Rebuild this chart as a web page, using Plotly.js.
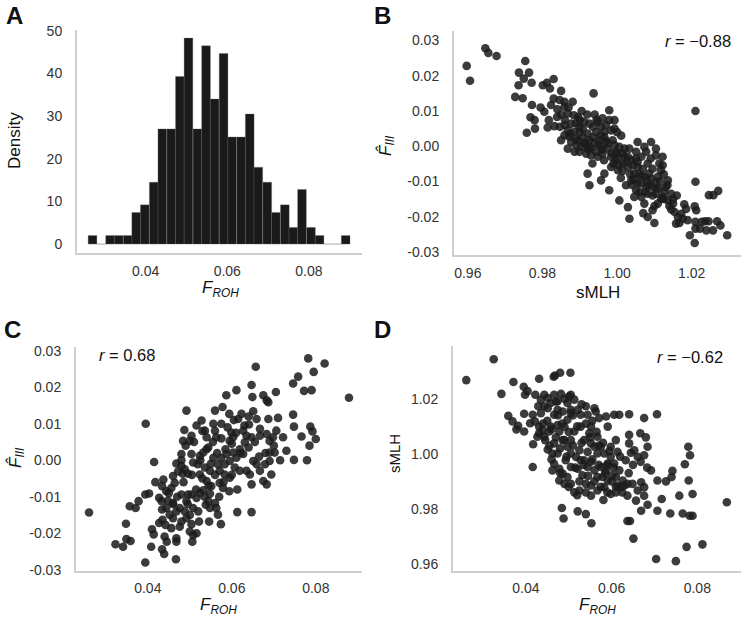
<!DOCTYPE html>
<html>
<head>
<meta charset="utf-8">
<script src="https://cdn.plot.ly/plotly-3.0.1.min.js"></script>
<style>html,body{margin:0;padding:0;background:#fff;}#chart{width:742px;height:617px;}</style>
</head>
<body>
<div id="chart"></div>
<script>
// ---------- Panel A: histogram of F_ROH (density per bin) ----------
const binCenters = [0.0270,0.0292,0.0313,0.0334,0.0356,0.0377,0.0398,0.0420,0.0441,0.0463,0.0484,0.0505,0.0527,0.0548,0.0569,0.0591,0.0612,0.0634,0.0655,0.0676,0.0698,0.0719,0.0741,0.0762,0.0783,0.0805,0.0826,0.0847,0.0869,0.0890];
const binDensity = [2,0,2,2,2,7.4,9.2,14.5,27,27,39.3,48.3,27,46.5,34,44.7,25.1,25.1,30.5,18,14.5,7.4,9.2,3.9,12.8,3.9,2,0,0,2];

// ---------- Panel B: sMLH vs F_III ----------
const bSMLH = [0.9597,0.9606,0.9647,0.9655,0.9677,0.9754,0.9737,0.9736,0.9727,0.9747,0.9764,0.9750,0.9771,0.9758,0.9772,0.9768,0.9779,0.9780,0.9801,0.9812,0.9830,0.9820,0.9850,0.9795,0.9805,0.9823,0.9846,0.9859,0.9881,0.9859,0.9817,0.9839,0.9814,0.9832,0.9847,0.9868,0.9884,0.9895,0.9877,0.9868,0.9859,0.9850,0.9872,0.9886,0.9899,0.9912,0.9895,0.9908,0.9921,0.9935,0.9926,0.9912,0.9868,0.9886,0.9904,0.9921,0.9939,0.9953,0.9966,0.9957,0.9975,0.9988,0.9966,0.9984,0.9948,0.9961,0.9979,0.9937,0.9979,0.9993,0.9993,0.9930,0.9934,0.9921,0.9926,0.9966,0.9957,0.9984,0.9997,1.0006,1.0002,1.0015,1.0015,1.0029,0.9984,1.0002,0.9979,1.0006,1.0029,1.0033,1.0024,1.0038,1.0046,1.0055,1.0042,1.0033,1.0051,1.0065,1.0078,1.0055,1.0073,1.0091,1.0104,1.0104,1.0055,1.0069,1.0082,1.0095,1.0073,1.0086,1.0064,1.0078,1.0051,1.0046,1.0065,1.0073,1.0082,1.0095,1.0104,1.0109,1.0117,1.0122,1.0122,1.0113,1.0136,1.0131,1.0145,1.0136,1.0122,1.0104,1.0109,1.0095,1.0082,1.0100,1.0150,1.0154,1.0163,1.0172,1.0180,1.0158,1.0167,1.0176,1.0185,1.0189,1.0195,1.0208,1.0210,1.0210,1.0212,1.0208,1.0222,1.0227,1.0210,1.0210,1.0236,1.0239,1.0246,1.0258,1.0271,1.0245,1.0268,1.0277,1.0257,1.0295,
0.9877,0.9890,0.9899,0.9917,0.9930,0.9944,0.9948,0.9961,0.9975,0.9993,0.9908,0.9926,0.9944,0.9957,1.0011,1.0020,1.0038,1.0060,1.0091,1.0113,1.0127,1.0118,1.0140,0.9840,0.9860,0.9890,0.9830,0.9905,0.9940,0.9970,1.0000,1.0040,1.0010,0.9990,1.0030,1.0080,1.0125,1.0150,1.0160,1.0070,
0.9860,0.9875,0.9890,0.9900,0.9915,0.9925,0.9935,0.9950,0.9960,0.9970,0.9985,0.9995,1.0005,1.0015,1.0025,1.0035,1.0045,1.0055,1.0065,1.0075,1.0085,1.0095,1.0105,1.0115,1.0125,1.0135,1.0145,0.9850,0.9870,0.9900,0.9920,0.9945,0.9955,0.9965,1.0000,1.0020,1.0050,1.0090,1.0060,1.0100];
const bFIII = [0.0228,0.0186,0.0278,0.0265,0.0256,0.0242,0.0209,0.0173,0.0140,0.0136,0.0209,0.0192,0.0180,0.0038,0.0117,0.0082,0.0074,0.0050,0.0173,0.0180,0.0191,0.0164,0.0157,0.0110,0.0098,0.0117,0.0131,0.0126,0.0126,0.0112,0.0074,0.0083,0.0053,0.0057,0.0055,0.0093,0.0088,0.0083,0.0064,0.0045,0.0031,0.0017,0.0027,0.0041,0.0055,0.0069,0.0017,0.0027,0.0036,0.0055,0.0017,0.0008,-0.0007,-0.0016,-0.0002,-0.0007,0.0008,0.0017,0.0027,-0.0002,0.0008,0.0017,0.0041,0.0045,0.0069,0.0079,0.0074,0.0150,0.0102,0.0074,0.0050,-0.0026,-0.0049,-0.0078,-0.0111,-0.0078,-0.0097,-0.0030,-0.0016,-0.0002,-0.0035,-0.0021,-0.0049,-0.0030,-0.0059,-0.0068,-0.0125,-0.0154,-0.0173,-0.0206,-0.0111,-0.0097,-0.0078,-0.0059,-0.0054,-0.0007,-0.0016,-0.0030,-0.0016,0.0012,-0.0002,0.0012,-0.0007,-0.0026,-0.0045,-0.0064,-0.0049,-0.0064,-0.0087,-0.0078,-0.0106,-0.0116,-0.0125,-0.0144,-0.0144,-0.0163,-0.0135,-0.0116,-0.0101,-0.0087,-0.0068,-0.0054,-0.0030,-0.0049,-0.0097,-0.0116,-0.0135,-0.0154,-0.0144,-0.0135,-0.0163,-0.0182,-0.0201,-0.0218,-0.0163,-0.0187,-0.0201,-0.0192,-0.0165,-0.0220,-0.0218,-0.0206,-0.0178,-0.0210,-0.0253,-0.0275,-0.0234,-0.0215,-0.0182,-0.0171,-0.0234,-0.0215,-0.0101,0.0100,-0.0213,-0.0239,-0.0139,-0.0139,-0.0127,-0.0213,-0.0213,-0.0225,-0.0239,-0.0253,
0.0012,0.0003,-0.0016,-0.0021,-0.0007,-0.0016,-0.0030,-0.0021,-0.0007,0.0003,0.0050,0.0064,0.0040,0.0055,0.0030,-0.0007,-0.0040,-0.0080,-0.0092,-0.0120,-0.0130,-0.0150,-0.0170,0.0105,0.0075,0.0065,0.0135,0.0100,0.0090,0.0060,0.0040,-0.0110,-0.0090,-0.0050,-0.0060,-0.0100,-0.0080,-0.0150,-0.0140,-0.0190,
0.0060,0.0035,0.0020,0.0040,0.0010,-0.0005,0.0025,0.0005,-0.0010,0.0015,-0.0020,-0.0040,-0.0055,-0.0070,-0.0045,-0.0080,-0.0095,-0.0105,-0.0085,-0.0130,-0.0110,-0.0140,-0.0120,-0.0100,-0.0150,-0.0110,-0.0180,0.0090,0.0110,0.0075,0.0090,0.0075,0.0030,-0.0040,-0.0020,-0.0030,-0.0035,-0.0035,-0.0130,-0.0170];

// ---------- Panel C: F_ROH vs F_III ----------
const cFROH = [0.0260,0.0395,0.0415,0.0418,0.0394,0.0403,0.0378,0.0357,0.0371,0.0348,0.0323,0.0341,0.0359,0.0349,0.0394,0.0408,0.0434,0.0439,0.0467,0.0410,0.0414,0.0427,0.0435,0.0440,0.0445,0.0468,0.0468,0.0442,0.0456,0.0476,0.0480,0.0492,0.0504,0.0508,0.0506,0.0500,0.0516,0.0522,0.0546,0.0574,0.0567,
0.0434,0.0433,0.0427,0.0444,0.0448,0.0460,0.0452,0.0468,0.0460,0.0476,0.0480,0.0492,0.0496,0.0504,0.0508,0.0488,0.0516,0.0524,0.0532,0.0544,0.0548,0.0560,0.0563,0.0538,0.0548,0.0551,0.0540,0.0571,0.0579,0.0594,0.0613,0.0613,0.0647,
0.0437,0.0434,0.0444,0.0456,0.0464,0.0460,0.0468,0.0472,0.0480,0.0483,0.0488,0.0496,0.0480,0.0490,0.0487,0.0492,0.0484,0.0504,0.0500,0.0516,0.0528,0.0504,0.0508,0.0519,0.0524,0.0532,0.0544,0.0540,0.0560,0.0536,0.0556,0.0563,0.0560,0.0578,0.0587,0.0594,0.0603,0.0599,0.0595,0.0611,0.0615,0.0623,0.0627,0.0635,0.0631,0.0647,0.0641,0.0649,0.0647,0.0657,0.0651,0.0659,0.0667,0.0667,0.0675,0.0683,0.0687,0.0687,0.0690,0.0683,0.0705,0.0710,0.0706,0.0698,0.0722,0.0730,0.0746,0.0758,0.0746,0.0748,0.0748,0.0766,0.0772,0.0782,0.0790,0.0795,0.0821,0.0787,0.0785,0.0792,0.0800,0.0779,0.0879,
0.0556,0.0567,0.0575,0.0583,0.0587,0.0595,0.0603,0.0611,0.0619,0.0627,0.0635,0.0643,0.0647,0.0651,0.0659,0.0667,0.0675,0.0683,0.0679,0.0690,0.0694,0.0702,0.0690,0.0571,0.0583,0.0595,0.0607,0.0619,0.0524,0.0536,0.0548,
0.0470,0.0485,0.0495,0.0505,0.0515,0.0525,0.0530,0.0540,0.0550,0.0555,0.0565,0.0575,0.0585,0.0590,0.0600,0.0610,0.0620,0.0630,0.0640,0.0655,0.0665,0.0500,0.0520,0.0535,0.0545,0.0560,0.0570,0.0580,0.0600,0.0460,0.0450,0.0510,0.0530,0.0575,0.0605,0.0640,0.0680,0.0700,0.0715,0.0480];
const cFIII = [-0.0143,0.0100,-0.0005,-0.0060,-0.0094,-0.0091,-0.0112,-0.0126,-0.0131,-0.0174,-0.0230,-0.0237,-0.0221,-0.0216,-0.0280,-0.0237,-0.0244,-0.0257,-0.0271,-0.0189,-0.0203,-0.0172,-0.0163,-0.0209,-0.0223,-0.0214,-0.0223,-0.0177,-0.0186,-0.0182,-0.0168,-0.0159,-0.0175,-0.0205,-0.0223,-0.0195,-0.0200,-0.0168,-0.0168,-0.0175,-0.0149,
-0.0135,-0.0112,-0.0103,-0.0131,-0.0111,-0.0117,-0.0149,-0.0140,-0.0159,-0.0131,-0.0094,-0.0112,-0.0094,-0.0094,-0.0131,-0.0140,-0.0103,-0.0089,-0.0082,-0.0112,-0.0131,-0.0117,-0.0131,-0.0122,-0.0092,-0.0071,-0.0057,-0.0062,-0.0076,-0.0085,-0.0080,-0.0142,-0.0142,
-0.0053,-0.0071,-0.0085,-0.0076,-0.0062,-0.0043,-0.0009,-0.0031,-0.0016,-0.0037,-0.0025,-0.0037,0.0017,0.0040,0.0083,0.0136,0.0053,0.0067,0.0053,0.0095,0.0109,0.0017,-0.0006,-0.0011,0.0012,0.0021,0.0035,0.0063,0.0081,0.0081,0.0100,0.0063,0.0136,0.0146,0.0178,0.0127,0.0063,0.0076,0.0053,0.0192,0.0113,0.0127,0.0081,0.0067,0.0049,0.0063,0.0098,0.0173,0.0206,0.0256,0.0134,0.0113,0.0086,0.0067,0.0178,0.0164,0.0159,0.0113,0.0053,0.0072,0.0187,0.0116,0.0081,0.0063,0.0063,0.0026,0.0210,0.0229,0.0125,0.0092,0.0001,0.0065,0.0190,0.0279,0.0192,0.0242,0.0265,0.0092,0.0040,0.0079,0.0058,0.0000,0.0171,
0.0007,-0.0011,0.0007,-0.0011,0.0017,-0.0002,0.0021,0.0007,0.0030,0.0017,-0.0029,-0.0039,-0.0066,-0.0002,-0.0011,-0.0029,-0.0057,-0.0066,-0.0011,-0.0002,-0.0039,0.0021,0.0021,-0.0029,-0.0039,-0.0048,-0.0020,-0.0029,-0.0039,-0.0020,-0.0029,
-0.0100,-0.0060,-0.0120,-0.0040,-0.0080,0.0000,-0.0050,0.0030,-0.0010,0.0050,0.0020,0.0060,0.0030,0.0090,0.0045,0.0075,0.0020,0.0095,0.0035,0.0050,0.0010,-0.0150,-0.0140,-0.0100,-0.0070,-0.0040,-0.0100,-0.0060,-0.0040,-0.0120,-0.0090,0.0050,0.0080,0.0100,0.0110,0.0120,0.0020,0.0040,0.0000,0.0000];

// ---------- Panel D: F_ROH vs sMLH ----------
const dFROH = [0.0261,0.0325,0.0343,0.0371,0.0359,0.0369,0.0378,0.0382,0.0395,0.0398,0.0404,0.0410,0.0396,0.0396,0.0416,0.0421,0.0417,0.0416,0.0422,0.0431,0.0435,0.0443,0.0451,0.0465,0.0468,0.0480,0.0504,0.0429,0.0435,0.0443,0.0451,0.0458,0.0466,0.0482,0.0501,0.0505,0.0497,0.0513,0.0474,0.0474,0.0486,0.0466,0.0431,0.0431,0.0439,0.0443,0.0427,0.0458,0.0454,0.0474,0.0478,0.0490,0.0497,0.0505,0.0521,0.0528,0.0540,0.0544,0.0560,0.0563,0.0571,0.0587,0.0606,0.0618,0.0641,0.0676,0.0706,
0.0451,0.0462,0.0466,0.0478,0.0478,0.0490,0.0505,0.0486,0.0497,0.0505,0.0517,0.0525,0.0536,0.0548,0.0552,0.0567,0.0591,0.0575,0.0583,0.0598,0.0521,0.0532,0.0544,0.0552,0.0560,0.0567,0.0575,0.0587,0.0591,0.0602,0.0606,0.0618,0.0626,0.0637,0.0513,0.0525,0.0540,0.0552,0.0567,0.0581,0.0583,0.0598,0.0610,0.0614,0.0630,0.0637,0.0649,0.0661,0.0669,0.0676,0.0657,0.0669,0.0676,0.0684,0.0707,0.0707,0.0717,0.0727,0.0740,0.0742,0.0737,0.0766,0.0758,0.0771,0.0779,0.0783,0.0780,0.0789,0.0782,0.0789,0.0869,
0.0484,0.0488,0.0521,0.0540,0.0553,0.0637,0.0643,0.0651,0.0704,0.0750,0.0775,0.0812,0.0633,0.0645,0.0653,0.0661,0.0641,0.0641,0.0667,0.0680,0.0684,0.0668,0.0683,0.0692,0.0676,0.0567,0.0536,0.0544,0.0474,0.0493,0.0505,0.0486,0.0462,0.0497,0.0528,0.0591,0.0598,0.0614,0.0560,0.0552,0.0528,0.0513,0.0505,0.0466,0.0579,0.0610,0.0622,0.0552,0.0540,
0.0440,0.0445,0.0450,0.0455,0.0460,0.0470,0.0475,0.0480,0.0485,0.0490,0.0495,0.0500,0.0505,0.0510,0.0515,0.0520,0.0525,0.0530,0.0535,0.0540,0.0545,0.0550,0.0555,0.0560,0.0565,0.0570,0.0575,0.0580,0.0585,0.0590,0.0595,0.0600,0.0605,0.0610,0.0620,0.0625,0.0470,0.0490,0.0510,0.0530,0.0555,0.0460,0.0480,0.0500,0.0520,0.0640,0.0650,0.0590,0.0570,0.0610];
const dSMLH = [1.0268,1.0344,1.0218,1.0261,1.0138,1.0118,1.0089,1.0102,1.0244,1.0215,1.0228,1.0111,1.0146,1.0081,1.0142,1.0118,1.0035,0.9952,1.0215,1.0273,1.0197,1.0215,1.0203,1.0280,1.0285,1.0295,1.0295,1.0173,1.0148,1.0173,1.0166,1.0185,1.0215,1.0218,1.0209,1.0215,1.0185,1.0197,1.0191,1.0160,1.0154,1.0142,1.0099,1.0075,1.0087,1.0062,1.0062,1.0099,1.0081,1.0105,1.0081,1.0099,1.0124,1.0148,1.0160,1.0142,1.0173,1.0142,1.0166,1.0154,1.0130,1.0136,1.0142,1.0142,1.0144,1.0130,1.0144,
1.0016,1.0001,0.9964,0.9946,0.9903,0.9891,0.9891,1.0050,1.0026,1.0001,0.9989,1.0013,1.0050,1.0075,1.0038,1.0062,1.0099,1.0026,1.0001,0.9989,0.9946,0.9922,0.9952,0.9971,0.9940,0.9916,0.9952,0.9940,0.9903,0.9922,0.9965,0.9940,0.9903,0.9891,0.9860,0.9867,0.9860,0.9848,0.9867,0.9832,0.9879,0.9854,0.9860,0.9885,0.9885,0.9848,0.9891,0.9867,0.9897,0.9879,0.9830,0.9793,0.9848,0.9815,0.9903,0.9793,0.9836,0.9900,0.9916,0.9938,0.9783,0.9783,0.9848,0.9962,1.0026,0.9995,0.9903,0.9854,0.9775,0.9775,0.9824,
0.9803,0.9765,0.9791,0.9781,0.9748,0.9756,0.9756,0.9692,0.9618,0.9610,0.9662,0.9671,0.9977,1.0004,1.0013,0.9989,1.0038,1.0069,1.0075,1.0060,1.0026,0.9971,0.9950,0.9940,0.9995,1.0001,0.9977,1.0007,1.0001,0.9977,0.9952,0.9928,0.9940,0.9916,0.9977,0.9965,1.0026,1.0007,1.0026,1.0099,1.0099,1.0081,1.0050,1.0038,0.9916,0.9916,0.9879,0.9885,0.9891,
1.0110,1.0050,1.0120,1.0030,1.0090,1.0060,1.0140,1.0020,1.0110,1.0050,0.9990,1.0080,1.0160,1.0030,0.9950,1.0100,0.9900,1.0040,0.9960,1.0110,0.9920,1.0060,0.9980,0.9900,1.0080,0.9960,0.9880,1.0040,0.9930,0.9860,1.0010,0.9900,0.9950,0.9880,0.9990,0.9860,1.0190,1.0200,1.0140,1.0180,1.0120,0.9980,0.9930,0.9880,0.9850,0.9930,0.9960,0.9960,1.0030,1.0050];

// ---------- tick labels ----------
const aXTicks = [0.04,0.06,0.08], aXText = ['0.04','0.06','0.08'];
const aYTicks = [0,10,20,30,40,50], aYText = ['0','10','20','30','40','50'];
const bXTicks = [0.96,0.98,1.00,1.02], bXText = ['0.96','0.98','1.00','1.02'];
const fTicks = [-0.03,-0.02,-0.01,0,0.01,0.02,0.03], fText = ['-0.03','-0.02','-0.01','0.00','0.01','0.02','0.03'];
const sTicks = [0.96,0.98,1.00,1.02], sText = ['0.96','0.98','1.00','1.02'];
const rB = '−0.88', rC = '0.68', rD = '−0.62';

const FONT = 'Liberation Sans, Arial, sans-serif';
const dot = {size: 8.6, color: '#1c1c1c', opacity: 0.86, line: {width: 0}};

const traces = [
  {type: 'bar', x: binCenters, y: binDensity, xaxis: 'x', yaxis: 'y',
   width: 0.002136, marker: {color: '#1a1a1a', line: {color: 'rgba(110,110,110,0.55)', width: 0.6}}, hoverinfo: 'skip'},
  {type: 'scatter', mode: 'markers', x: bSMLH, y: bFIII, xaxis: 'x2', yaxis: 'y2', marker: dot},
  {type: 'scatter', mode: 'markers', x: cFROH, y: cFIII, xaxis: 'x3', yaxis: 'y3', marker: dot},
  {type: 'scatter', mode: 'markers', x: dFROH, y: dSMLH, xaxis: 'x4', yaxis: 'y4', marker: dot}
];

function ax(dom, range, tv, tt, anchor, isX) {
  return {domain: dom, range: range, tickvals: tv, ticktext: tt, anchor: anchor,
    showline: true, linecolor: '#cfcfcf', linewidth: 2, showgrid: false, zeroline: false,
    ticks: '', ticklabelstandoff: isX ? 4 : 10, tickfont: {family: FONT, size: 14, color: '#333'}, fixedrange: true};
}
const W = 742, H = 617;
const px = v => v / W, py = v => 1 - v / H;

const layout = {
  width: W, height: H, margin: {l: 0, r: 0, t: 0, b: 0},
  paper_bgcolor: '#fff', plot_bgcolor: '#fff', showlegend: false, bargap: 0,
  font: {family: FONT, color: '#222'},
  xaxis:  ax([px(77), px(362)], [0.0232, 0.0930], aXTicks, aXText, 'y', true),
  yaxis:  ax([py(253), py(30)], [-2.1, 50.2], aYTicks, aYText, 'x'),
  xaxis2: ax([px(454), px(741)], [0.9563, 1.0332], bXTicks, bXText, 'y2', true),
  yaxis2: ax([py(255), py(30.7)], [-0.0309, 0.0328], fTicks, fText, 'x2'),
  xaxis3: ax([px(76), px(362)], [0.0229, 0.0910], aXTicks, aXText, 'y3', true),
  yaxis3: ax([py(570.5), py(346.7)], [-0.0302, 0.0311], fTicks, fText, 'x3'),
  xaxis4: ax([px(453), px(741)], [0.0230, 0.0902], aXTicks, aXText, 'y4', true),
  yaxis4: ax([py(570.5), py(346)], [0.9576, 1.0392], sTicks, sText, 'x4'),
  annotations: []
};

function note(text, x, y, size, opts) {
  layout.annotations.push(Object.assign({text: text, x: px(x), y: py(y), xref: 'paper', yref: 'paper',
    showarrow: false, xanchor: 'center', yanchor: 'middle', font: {family: FONT, size: size, color: '#111'}}, opts || {}));
}
const FROH = '<i>F</i><sub><i>ROH</i></sub>';
const FIII = '<i>F\u0302</i><sub><i>III</i></sub>';
// panel letters
note('<b>A</b>', 14, 16, 24);
note('<b>B</b>', 383, 16, 24);
note('<b>C</b>', 12, 329, 24);
note('<b>D</b>', 382, 329, 24);
// axis titles
note('Density', 14, 141, 17, {textangle: -90});
note(FROH, 220, 289, 17);
note(FIII, 386, 146, 17, {textangle: -90});
note('sMLH', 598, 292, 17);
note(FIII, 16, 458, 17, {textangle: -90});
note(FROH, 218, 606, 17);
note('sMLH', 394, 454, 15, {textangle: -90});
note(FROH, 597, 606, 17);
// correlation labels
note('<i>r</i> = ' + rB, 698, 41, 16.5);
note('<i>r</i> = ' + rC, 127, 355, 16.5);
note('<i>r</i> = ' + rD, 690, 357, 16.5);

Plotly.newPlot('chart', traces, layout, {displayModeBar: false, staticPlot: true});
</script>
</body>
</html>
